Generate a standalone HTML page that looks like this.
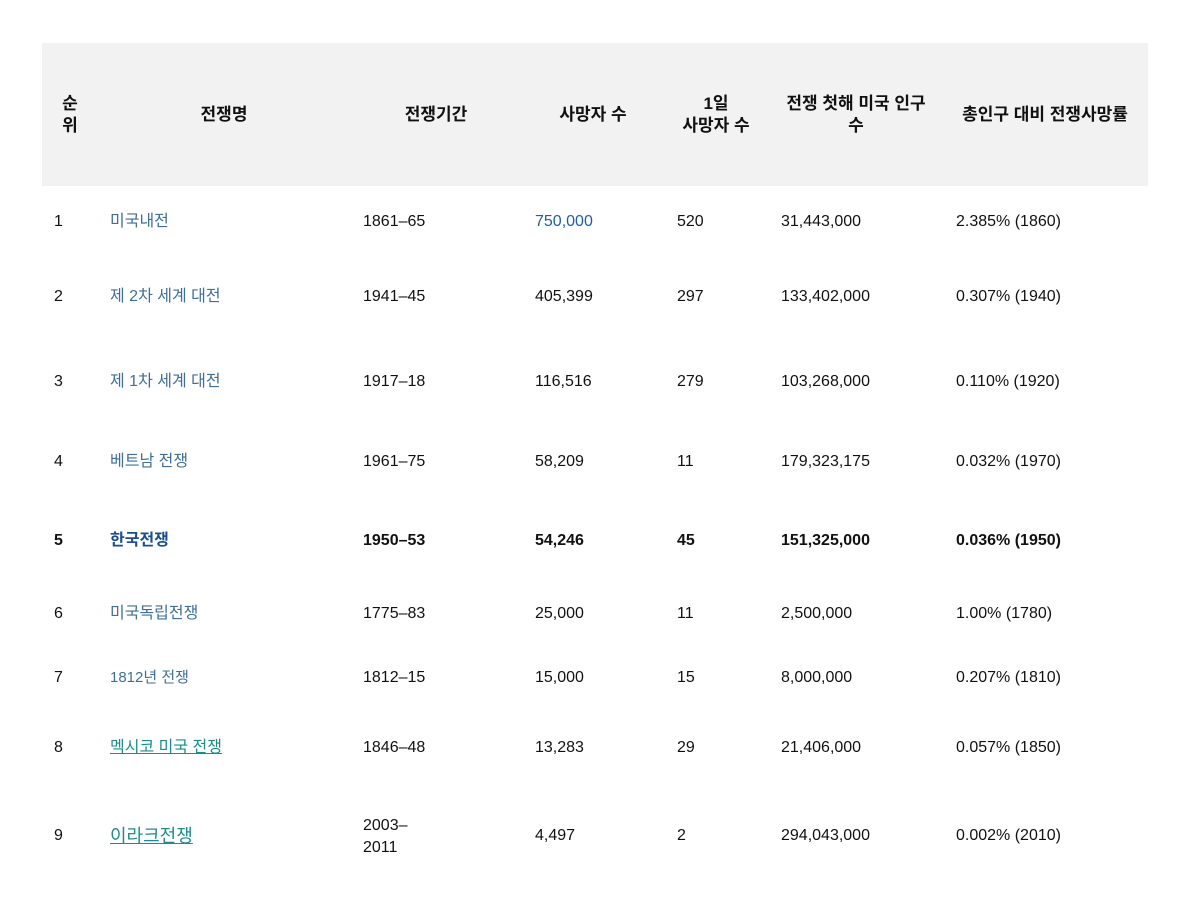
<!DOCTYPE html>
<html><head><meta charset="utf-8"><style>
body{margin:0;width:1200px;height:900px;background:#fff;position:relative;font-family:"Liberation Sans","Noto Sans CJK KR",sans-serif;font-size:16px;color:#111;}
.hd{position:absolute;left:42px;top:43px;width:1106px;height:143px;background:#f2f2f2;}
.t{position:absolute;white-space:nowrap;line-height:20px;transform:translateY(calc(-50% + 2px));}
.c{text-align:center;transform:translate(-50%,-50%);font-weight:bold;line-height:22px;font-size:17px;}
.l{color:#3f6f99;}
.u{color:#1e8c8c;text-decoration:underline;}
b{font-weight:bold;}
</style></head><body>
<div class="hd"></div>
<div class="t c" style="left:70px;top:115px">순<br>위</div>
<div class="t c" style="left:224px;top:115px">전쟁명</div>
<div class="t c" style="left:436px;top:115px">전쟁기간</div>
<div class="t c" style="left:593px;top:115px">사망자 수</div>
<div class="t c" style="left:716px;top:115px">1일<br>사망자 수</div>
<div class="t c" style="left:856px;top:115px">전쟁 첫해 미국 인구<br>수</div>
<div class="t c" style="left:1045px;top:115px">총인구 대비 전쟁사망률</div>

<div class="t" style="left:54px;top:220px">1</div><div class="t l" style="left:110px;top:220px">미국내전</div><div class="t" style="left:363px;top:220px">1861–65</div><div class="t" style="left:535px;top:220px;color:#1f5fa0">750,000</div><div class="t" style="left:677px;top:220px">520</div><div class="t" style="left:781px;top:220px">31,443,000</div><div class="t" style="left:956px;top:220px">2.385% (1860)</div>

<div class="t" style="left:54px;top:295px">2</div><div class="t l" style="left:110px;top:295px">제 2차 세계 대전</div><div class="t" style="left:363px;top:295px">1941–45</div><div class="t" style="left:535px;top:295px">405,399</div><div class="t" style="left:677px;top:295px">297</div><div class="t" style="left:781px;top:295px">133,402,000</div><div class="t" style="left:956px;top:295px">0.307% (1940)</div>

<div class="t" style="left:54px;top:380px">3</div><div class="t l" style="left:110px;top:380px">제 1차 세계 대전</div><div class="t" style="left:363px;top:380px">1917–18</div><div class="t" style="left:535px;top:380px">116,516</div><div class="t" style="left:677px;top:380px">279</div><div class="t" style="left:781px;top:380px">103,268,000</div><div class="t" style="left:956px;top:380px">0.110% (1920)</div>

<div class="t" style="left:54px;top:460px">4</div><div class="t l" style="left:110px;top:460px">베트남 전쟁</div><div class="t" style="left:363px;top:460px">1961–75</div><div class="t" style="left:535px;top:460px">58,209</div><div class="t" style="left:677px;top:460px">11</div><div class="t" style="left:781px;top:460px">179,323,175</div><div class="t" style="left:956px;top:460px">0.032% (1970)</div>

<div class="t" style="left:54px;top:539px"><b>5</b></div><div class="t" style="left:110px;top:539px;color:#1a4f8a"><b>한국전쟁</b></div><div class="t" style="left:363px;top:539px"><b>1950–53</b></div><div class="t" style="left:535px;top:539px"><b>54,246</b></div><div class="t" style="left:677px;top:539px"><b>45</b></div><div class="t" style="left:781px;top:539px"><b>151,325,000</b></div><div class="t" style="left:956px;top:539px"><b>0.036% (1950)</b></div>

<div class="t" style="left:54px;top:612px">6</div><div class="t l" style="left:110px;top:612px">미국독립전쟁</div><div class="t" style="left:363px;top:612px">1775–83</div><div class="t" style="left:535px;top:612px">25,000</div><div class="t" style="left:677px;top:612px">11</div><div class="t" style="left:781px;top:612px">2,500,000</div><div class="t" style="left:956px;top:612px">1.00% (1780)</div>

<div class="t" style="left:54px;top:676px">7</div><div class="t l" style="left:110px;top:676px;font-size:15px">1812년 전쟁</div><div class="t" style="left:363px;top:676px">1812–15</div><div class="t" style="left:535px;top:676px">15,000</div><div class="t" style="left:677px;top:676px">15</div><div class="t" style="left:781px;top:676px">8,000,000</div><div class="t" style="left:956px;top:676px">0.207% (1810)</div>

<div class="t" style="left:54px;top:746px">8</div><div class="t u" style="left:110px;top:746px">멕시코 미국 전쟁</div><div class="t" style="left:363px;top:746px">1846–48</div><div class="t" style="left:535px;top:746px">13,283</div><div class="t" style="left:677px;top:746px">29</div><div class="t" style="left:781px;top:746px">21,406,000</div><div class="t" style="left:956px;top:746px">0.057% (1850)</div>

<div class="t" style="left:54px;top:834px">9</div><div class="t u" style="left:110px;top:834px;font-size:18px">이라크전쟁</div><div class="t" style="left:363px;top:835px;white-space:normal;width:60px;line-height:22px">2003–<br>2011</div><div class="t" style="left:535px;top:834px">4,497</div><div class="t" style="left:677px;top:834px">2</div><div class="t" style="left:781px;top:834px">294,043,000</div><div class="t" style="left:956px;top:834px">0.002% (2010)</div>
</body></html>
